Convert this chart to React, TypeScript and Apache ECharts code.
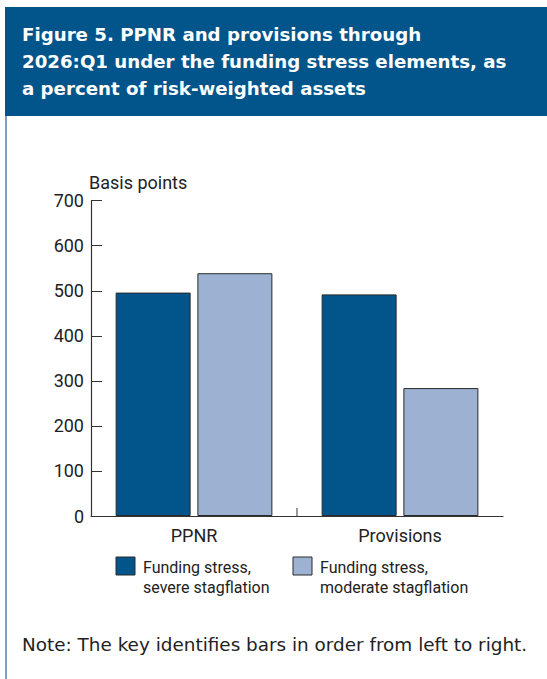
import React, { useEffect, useRef } from "react";
import * as echarts from "echarts";

const categories = ["PPNR", "Provisions"];
const severeValues = [496, 492];
const moderateValues = [539, 284];
const seriesNames = ["Funding stress,\nsevere stagflation", "Funding stress,\nmoderate stagflation"];
const yTicks = [0, 100, 200, 300, 400, 500, 600, 700];
const titleLines = [
  "Figure 5. PPNR and provisions through",
  "2026:Q1 under the funding stress elements, as",
  "a percent of risk-weighted assets",
];
const noteText = "Note: The key identifies bars in order from left to right.";
const yUnit = "Basis points";

const DARK = "#02558B";
const LIGHT = "#9DB2D2";
const FONT = "Roboto, 'Noto Sans', sans-serif";
const TITLE_FONT = "'DejaVu Sans', sans-serif";
const NOTE_FONT = "'DejaVu Sans', sans-serif";

export default function App() {
  const ref = useRef<HTMLDivElement>(null);
  useEffect(() => {
    if (!ref.current) return;
    const chart = echarts.init(ref.current, undefined, { renderer: "svg" });
    const colors = [DARK, LIGHT];
    const legendX = [116, 293];
    chart.setOption({
      animation: false,
      textStyle: { fontFamily: FONT },
      grid: { left: 91, right: 44, top: 200.7, bottom: 163 },
      xAxis: {
        type: "category",
        data: categories,
        axisLine: { lineStyle: { color: "#333", width: 1.2 } },
        axisTick: { show: false },
        axisLabel: { fontSize: 18, color: "#222", margin: 10 },
      },
      yAxis: {
        type: "value",
        min: 0,
        max: 700,
        interval: 100,
        name: yUnit,
        nameLocation: "end",
        nameGap: 5,
        nameTextStyle: { fontSize: 18, color: "#222", align: "left", padding: [0, 0, 0, -2] },
        axisLine: { show: true, lineStyle: { color: "#333", width: 1.2 } },
        axisTick: { show: true, inside: true, length: 11, lineStyle: { color: "#333" } },
        axisLabel: {
          fontSize: 18,
          color: "#222",
          margin: 7,
          formatter: (v: number) => (yTicks.includes(v) ? String(v) : ""),
        },
        splitLine: { show: false },
      },
      series: [
        {
          name: seriesNames[0],
          type: "bar",
          data: severeValues,
          barWidth: 75,
          barGap: "9%",
          itemStyle: { color: DARK, borderColor: "#2a2a2a", borderWidth: 1 },
        },
        {
          name: seriesNames[1],
          type: "bar",
          data: moderateValues,
          barWidth: 75,
          barGap: "9%",
          itemStyle: { color: LIGHT, borderColor: "#2a2a2a", borderWidth: 1 },
        },
      ],
      graphic: [
        { type: "rect", shape: { x: 5, y: 7, width: 542, height: 109 }, style: { fill: DARK } },
        { type: "line", shape: { x1: 6, y1: 116, x2: 6, y2: 679 }, style: { stroke: "#5a7fae", lineWidth: 1.5 } },
        ...titleLines.map((t, i) => ({
          type: "text",
          x: 22,
          y: 25 + i * 27,
          style: { text: t, fill: "#fff", font: `bold 18.2px ${TITLE_FONT}` },
        })),
        ...seriesNames.map((n, i) => ({
          type: "group",
          children: [
            {
              type: "rect",
              shape: { x: legendX[i], y: 557, width: 19, height: 18 },
              style: { fill: colors[i], stroke: "#2a2a2a", lineWidth: 1 },
            },
            {
              type: "text",
              x: legendX[i] + 27,
              y: 557,
              style: { text: n, fill: "#222", font: `16px ${FONT}`, lineHeight: 20 },
            },
          ],
        })),
        {
          type: "text",
          x: 22,
          y: 635,
          style: { text: noteText, fill: "#222", font: `18.4px ${NOTE_FONT}` },
        },
      ],
    });
    const p0 = chart.convertToPixel({ xAxisIndex: 0 }, categories[0]) as number;
    const p1 = chart.convertToPixel({ xAxisIndex: 0 }, categories[1]) as number;
    const y0 = chart.convertToPixel({ yAxisIndex: 0 }, 0) as number;
    const mid = (p0 + p1) / 2;
    chart.setOption({
      graphic: [
        {
          id: "midTick",
          type: "line",
          shape: { x1: mid, y1: y0, x2: mid, y2: y0 - 8 },
          style: { stroke: "#333", lineWidth: 1 },
        },
      ],
    });
    return () => chart.dispose();
  }, []);
  return (
    <div
      ref={ref}
      style={{ position: "absolute", left: 0, top: 0, width: 547, height: 679, background: "#fff" }}
    />
  );
}
